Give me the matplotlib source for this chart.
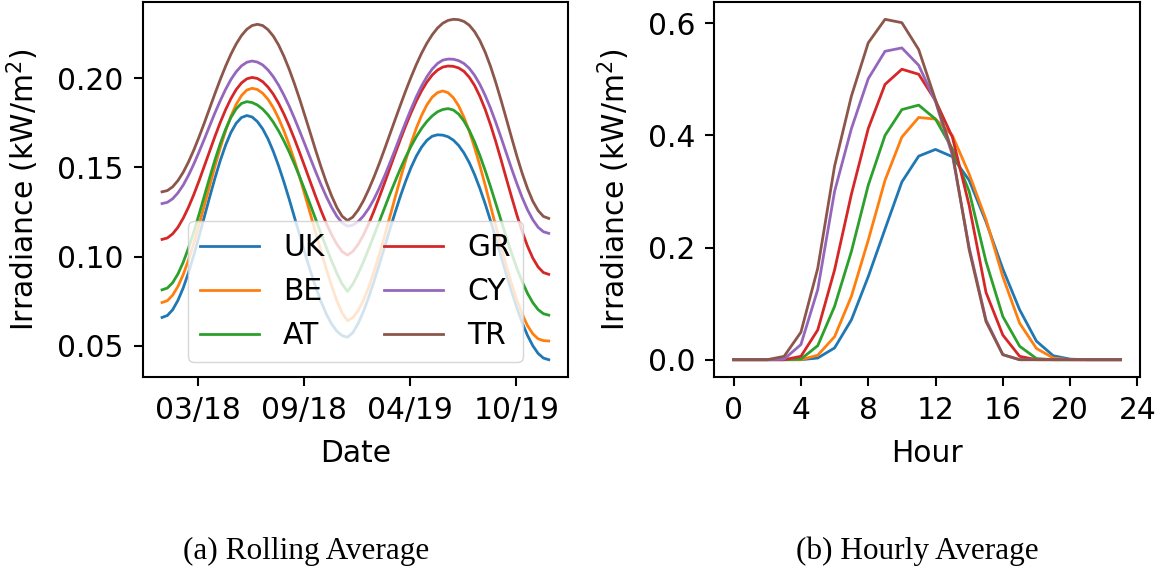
import numpy as np
import pandas as pd
import matplotlib
matplotlib.use("Agg")
import matplotlib.pyplot as plt
import matplotlib.dates as mdates
from matplotlib.ticker import MultipleLocator

countries = ["UK", "BE", "AT", "GR", "CY", "TR"]

# rolling average, sampled every ~10 days from 2018-01-01 to 2019-12-31
dates = pd.date_range("2018-01-01", "2019-12-31", periods=74)

rolling_uk = [0.0658, 0.0669, 0.0701, 0.0754, 0.0824, 0.0910, 0.1008, 0.1114, 0.1225, 0.1335,
              0.1441, 0.1539, 0.1625, 0.1696, 0.1748, 0.1780, 0.1791, 0.1783, 0.1757, 0.1716,
              0.1660, 0.1590, 0.1509, 0.1419, 0.1322, 0.1220, 0.1118, 0.1016, 0.0919, 0.0829,
              0.0748, 0.0678, 0.0622, 0.0581, 0.0556, 0.0547, 0.0572, 0.0623, 0.0690, 0.0770,
              0.0859, 0.0954, 0.1052, 0.1151, 0.1247, 0.1339, 0.1423, 0.1499, 0.1563, 0.1614,
              0.1652, 0.1675, 0.1683, 0.1681, 0.1672, 0.1653, 0.1623, 0.1581, 0.1527, 0.1460,
              0.1382, 0.1296, 0.1202, 0.1102, 0.1001, 0.0900, 0.0802, 0.0711, 0.0628, 0.0557,
              0.0499, 0.0456, 0.0430, 0.0421]
rolling_be = [0.0742, 0.0752, 0.0783, 0.0832, 0.0899, 0.0981, 0.1075, 0.1179, 0.1288, 0.1398,
              0.1508, 0.1611, 0.1705, 0.1787, 0.1854, 0.1903, 0.1934, 0.1944, 0.1937, 0.1916,
              0.1882, 0.1835, 0.1776, 0.1706, 0.1626, 0.1538, 0.1443, 0.1342, 0.1239, 0.1134,
              0.1031, 0.0930, 0.0837, 0.0752, 0.0683, 0.0640, 0.0656, 0.0695, 0.0753, 0.0827,
              0.0914, 0.1010, 0.1114, 0.1222, 0.1331, 0.1438, 0.1540, 0.1635, 0.1720, 0.1792,
              0.1851, 0.1894, 0.1920, 0.1929, 0.1919, 0.1891, 0.1845, 0.1781, 0.1703, 0.1612,
              0.1510, 0.1401, 0.1286, 0.1171, 0.1057, 0.0947, 0.0845, 0.0754, 0.0676, 0.0612,
              0.0566, 0.0538, 0.0528, 0.0526]
rolling_at = [0.0813, 0.0823, 0.0853, 0.0902, 0.0968, 0.1048, 0.1139, 0.1238, 0.1341, 0.1444,
              0.1543, 0.1634, 0.1714, 0.1780, 0.1829, 0.1859, 0.1869, 0.1864, 0.1850, 0.1827,
              0.1795, 0.1754, 0.1705, 0.1649, 0.1587, 0.1519, 0.1446, 0.1369, 0.1290, 0.1210,
              0.1129, 0.1051, 0.0976, 0.0906, 0.0846, 0.0804, 0.0844, 0.0902, 0.0969, 0.1042,
              0.1118, 0.1195, 0.1272, 0.1349, 0.1422, 0.1493, 0.1558, 0.1618, 0.1672, 0.1719,
              0.1758, 0.1789, 0.1812, 0.1825, 0.1830, 0.1822, 0.1799, 0.1760, 0.1708, 0.1643,
              0.1567, 0.1483, 0.1393, 0.1298, 0.1203, 0.1108, 0.1018, 0.0933, 0.0858, 0.0793,
              0.0741, 0.0702, 0.0679, 0.0671]
rolling_gr = [0.1096, 0.1104, 0.1127, 0.1164, 0.1215, 0.1277, 0.1348, 0.1426, 0.1509, 0.1592,
              0.1675, 0.1753, 0.1824, 0.1886, 0.1937, 0.1974, 0.1997, 0.2005, 0.1999, 0.1981,
              0.1951, 0.1911, 0.1860, 0.1800, 0.1733, 0.1659, 0.1581, 0.1500, 0.1418, 0.1337,
              0.1259, 0.1187, 0.1123, 0.1069, 0.1028, 0.1008, 0.1028, 0.1067, 0.1120, 0.1183,
              0.1255, 0.1332, 0.1412, 0.1495, 0.1577, 0.1657, 0.1734, 0.1806, 0.1872, 0.1930,
              0.1979, 0.2018, 0.2046, 0.2063, 0.2069, 0.2067, 0.2058, 0.2039, 0.2006, 0.1960,
              0.1899, 0.1826, 0.1740, 0.1645, 0.1543, 0.1437, 0.1333, 0.1232, 0.1139, 0.1058,
              0.0991, 0.0941, 0.0910, 0.0900]
rolling_cy = [0.1297, 0.1304, 0.1324, 0.1357, 0.1401, 0.1456, 0.1519, 0.1588, 0.1660, 0.1734,
              0.1807, 0.1875, 0.1938, 0.1993, 0.2037, 0.2070, 0.2090, 0.2097, 0.2091, 0.2075,
              0.2047, 0.2009, 0.1962, 0.1906, 0.1844, 0.1775, 0.1702, 0.1627, 0.1551, 0.1476,
              0.1404, 0.1337, 0.1277, 0.1226, 0.1189, 0.1170, 0.1176, 0.1195, 0.1227, 0.1269,
              0.1321, 0.1383, 0.1451, 0.1524, 0.1600, 0.1678, 0.1754, 0.1827, 0.1896, 0.1957,
              0.2009, 0.2052, 0.2083, 0.2102, 0.2108, 0.2107, 0.2099, 0.2083, 0.2056, 0.2017,
              0.1966, 0.1904, 0.1833, 0.1753, 0.1668, 0.1580, 0.1492, 0.1408, 0.1330, 0.1262,
              0.1206, 0.1164, 0.1139, 0.1130]
rolling_tr = [0.1363, 0.1370, 0.1391, 0.1426, 0.1473, 0.1531, 0.1598, 0.1672, 0.1751, 0.1833,
              0.1915, 0.1994, 0.2068, 0.2135, 0.2193, 0.2240, 0.2275, 0.2296, 0.2303, 0.2296,
              0.2273, 0.2237, 0.2187, 0.2124, 0.2051, 0.1969, 0.1881, 0.1787, 0.1692, 0.1596,
              0.1504, 0.1418, 0.1341, 0.1275, 0.1226, 0.1202, 0.1221, 0.1260, 0.1312, 0.1375,
              0.1445, 0.1521, 0.1602, 0.1685, 0.1768, 0.1850, 0.1930, 0.2006, 0.2077, 0.2141,
              0.2197, 0.2244, 0.2282, 0.2309, 0.2325, 0.2331, 0.2329, 0.2319, 0.2298, 0.2262,
              0.2212, 0.2147, 0.2068, 0.1977, 0.1877, 0.1772, 0.1666, 0.1562, 0.1466, 0.1381,
              0.1310, 0.1258, 0.1225, 0.1214]

# mean irradiance per hour of day
hours = np.arange(24)
hourly_uk = [0, 0, 0, 0, 0.000, 0.003, 0.021, 0.071, 0.148, 0.233, 0.317, 0.363,
             0.375, 0.362, 0.320, 0.246, 0.162, 0.089, 0.033, 0.007, 0.001, 0, 0, 0]
hourly_be = [0, 0, 0, 0, 0.000, 0.008, 0.041, 0.113, 0.213, 0.320, 0.397, 0.432,
             0.429, 0.400, 0.331, 0.250, 0.148, 0.065, 0.020, 0.003, 0, 0, 0, 0]
hourly_at = [0, 0, 0, 0, 0.001, 0.025, 0.095, 0.193, 0.311, 0.400, 0.446, 0.454,
             0.429, 0.376, 0.300, 0.175, 0.077, 0.024, 0.002, 0, 0, 0, 0, 0]
hourly_gr = [0, 0, 0, 0, 0.006, 0.053, 0.160, 0.295, 0.412, 0.491, 0.518, 0.509,
             0.462, 0.397, 0.275, 0.120, 0.044, 0.006, 0, 0, 0, 0, 0, 0]
hourly_cy = [0, 0, 0, 0.001, 0.027, 0.125, 0.300, 0.412, 0.501, 0.550, 0.556, 0.525,
             0.460, 0.365, 0.200, 0.071, 0.009, 0, 0, 0, 0, 0, 0, 0]
hourly_tr = [0, 0, 0, 0.006, 0.049, 0.163, 0.345, 0.470, 0.565, 0.607, 0.601, 0.553,
             0.463, 0.370, 0.196, 0.068, 0.009, 0, 0, 0, 0, 0, 0, 0]

rolling = [rolling_uk, rolling_be, rolling_at, rolling_gr, rolling_cy, rolling_tr]
hourly = [hourly_uk, hourly_be, hourly_at, hourly_gr, hourly_cy, hourly_tr]

plt.rcParams.update({
    "font.size": 21.4,
    "axes.linewidth": 1.5,
    "lines.linewidth": 2.0,
    "xtick.major.size": 6.7,
    "ytick.major.size": 6.7,
    "xtick.major.width": 1.5,
    "ytick.major.width": 1.5,
    "xtick.major.pad": 7,
    "ytick.major.pad": 7,
})

fig = plt.figure(figsize=(11.65, 5.74), dpi=100)
ax1 = fig.add_axes([0.1225, 0.3437, 0.3651, 0.6523])
ax2 = fig.add_axes([0.6131, 0.3437, 0.3654, 0.6523])

for name, vals in zip(countries, rolling):
    ax1.plot(dates, vals, label=name)
ax1.xaxis.set_major_locator(MultipleLocator(200))
ax1.xaxis.set_major_formatter(mdates.DateFormatter("%m/%y"))
ax1.set_xlabel("Date", labelpad=10.5)
ax1.set_ylabel("Irradiance (kW/m$^2$)", labelpad=11.5)
ax1.legend(loc="lower center", ncol=2)

for name, vals in zip(countries, hourly):
    ax2.plot(hours, vals, label=name)
ax2.xaxis.set_major_locator(MultipleLocator(4))
ax2.set_xlabel("Hour", labelpad=10.5)
ax2.set_ylabel("Irradiance (kW/m$^2$)", labelpad=11.5)

fig.text(306 / 1165, 1 - 551 / 574, "(a) Rolling Average", ha="center", va="center",
         family="Liberation Serif", size=22.5)
fig.text(917 / 1165, 1 - 551 / 574, "(b) Hourly Average", ha="center", va="center",
         family="Liberation Serif", size=22.5)

fig.savefig("out.png", dpi=100)
